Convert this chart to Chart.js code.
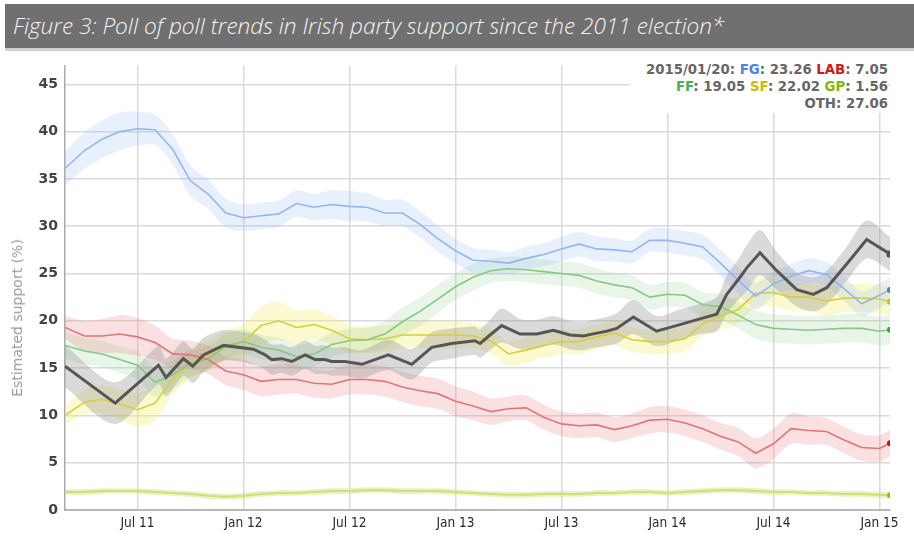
<!DOCTYPE html>
<html>
<head>
<meta charset="utf-8">
<script src="https://cdn.jsdelivr.net/npm/chart.js@4"></script>
<style>
  html, body { margin: 0; padding: 0; background: #fff; }
  body { width: 914px; height: 545px; position: relative; overflow: hidden; }
  #banner {
    position: absolute; left: 5px; top: 4px; width: 909px; height: 44px;
    background: #707070; color: #f4f4f4;
    font-family: "Open Sans", sans-serif; font-style: italic; font-weight: 300;
    font-size: 22.6px; line-height: 44px; padding-left: 8px; box-sizing: border-box;
  }
  #stripe { position: absolute; left: 5px; top: 48px; width: 909px; height: 3px; background: #d0d0d0; }
  #wrap { position: absolute; left: 0; top: 50px; width: 914px; height: 495px; }
  #ytitle {
    position: absolute; left: 17px; top: 318px; color: #9a9a9a;
    font-family: "DejaVu Sans", sans-serif; font-size: 14px; white-space: nowrap;
    transform: translate(-50%, -50%) rotate(-90deg);
  }
  #legend {
    position: absolute; left: 630px; top: 52px; width: 258px; height: 61px;
    background: #fff; text-align: right; box-sizing: border-box; padding-top: 9px;
    font-family: "DejaVu Sans", sans-serif; font-weight: bold; font-size: 13.3px;
    line-height: 17px; color: #666;
  }
</style>
</head>
<body>
<div id="banner">Figure 3: Poll of poll trends in Irish party support since the 2011 election*</div>
<div id="stripe"></div>
<div id="wrap"><canvas id="poll" width="914" height="495"></canvas></div>
<div id="ytitle">Estimated support (%)</div>
<div id="legend"></div>
<script>
// months since Jan 2011 (6 = Jul 11, 12 = Jan 12 ...)
const months = [1.9, 3, 4, 5, 6, 7, 8, 9, 10, 11, 12, 13, 14, 15, 16, 17, 18, 19, 20, 21, 22, 23, 24, 25,
  26, 27, 28, 29, 30, 31, 32, 33, 34, 35, 36, 37, 38, 39, 40, 41, 42, 43, 44, 45, 46, 47, 48, 48.6];

const fg = [36.1, 38.0, 39.2, 40.0, 40.3, 40.2, 38.1, 34.8, 33.4, 31.4, 30.9, 31.1, 31.3, 32.4, 32.0, 32.3,
  32.1, 32.0, 31.4, 31.4, 30.2, 28.7, 27.4, 26.4, 26.3, 26.1, 26.6, 27.0, 27.6, 28.1, 27.6, 27.5, 27.3, 28.5,
  28.5, 28.2, 27.8, 26.1, 24.3, 22.6, 23.9, 24.7, 25.3, 24.9, 23.4, 21.8, 22.7, 23.26];
const lab = [19.3, 18.4, 18.4, 18.6, 18.3, 17.7, 16.5, 16.4, 15.9, 14.7, 14.3, 13.6, 13.8, 13.8, 13.4, 13.3,
  13.8, 13.8, 13.6, 13.0, 12.6, 12.3, 11.5, 11.0, 10.4, 10.7, 10.8, 9.8, 9.1, 8.9, 9.0, 8.5, 8.9, 9.5, 9.6,
  9.2, 8.6, 7.8, 7.2, 6.0, 7.0, 8.6, 8.4, 8.3, 7.4, 6.6, 6.5, 7.05];
const ff = [17.4, 16.8, 16.5, 15.9, 15.3, 13.5, 14.3, 15.5, 16.0, 17.3, 17.8, 17.2, 16.9, 16.2, 16.5, 17.5,
  17.9, 18.0, 18.6, 19.9, 21.0, 22.3, 23.6, 24.6, 25.3, 25.5, 25.4, 25.2, 25.0, 24.8, 24.2, 23.8, 23.5, 22.5,
  22.8, 22.7, 21.7, 21.5, 20.6, 19.6, 19.2, 19.1, 19.0, 19.1, 19.2, 19.2, 18.9, 19.05];
const sf = [10.0, 11.4, 11.7, 11.2, 10.6, 11.3, 13.9, 15.5, 16.4, 17.4, 17.8, 19.5, 20.0, 19.3, 19.6, 19.0,
  18.1, 18.0, 18.1, 18.5, 18.5, 18.5, 18.5, 18.4, 17.9, 16.5, 16.9, 17.4, 17.8, 17.8, 18.3, 18.7, 18.0, 17.8,
  17.8, 18.1, 19.7, 20.5, 21.2, 22.9, 23.0, 22.5, 22.5, 22.1, 22.4, 22.4, 22.3, 22.02];
const gp = [1.9, 1.9, 2.0, 2.0, 2.0, 1.9, 1.8, 1.7, 1.5, 1.4, 1.5, 1.7, 1.8, 1.8, 1.9, 2.0, 2.0, 2.1, 2.1,
  2.0, 2.0, 2.0, 1.9, 1.8, 1.7, 1.6, 1.6, 1.7, 1.7, 1.7, 1.8, 1.8, 1.9, 1.9, 1.8, 1.9, 2.0, 2.1, 2.1, 2.0,
  1.9, 1.9, 1.8, 1.8, 1.7, 1.7, 1.6, 1.56];

// others has its own time points (sharper turns)
const othMonths = [1.9, 4.74, 7.19, 7.62, 8.6, 9.13, 9.74, 10.87, 12.57, 13.23, 13.6, 14.17, 14.74, 15.49,
  16.06, 16.6, 17.0, 17.75, 18.7, 20.2, 21.53, 22.66, 23.79, 25.1, 25.4, 25.96, 26.62, 27.66, 28.6, 29.54,
  30.49, 31.24, 32.0, 32.56, 33.13, 34.07, 35.39, 36.71, 37.84, 38.79, 39.36, 40.11, 40.49, 41.24, 42.19,
  43.32, 44.26, 45.02, 46.15, 47.28, 48.6];
const oth = [15.2, 11.3, 15.3, 14.0, 16.0, 15.2, 16.4, 17.4, 17.0, 16.4, 15.9, 16.0, 15.7, 16.4, 15.9, 15.9,
  15.7, 15.7, 15.4, 16.4, 15.4, 17.2, 17.6, 17.9, 17.6, 18.5, 19.5, 18.6, 18.6, 19.0, 18.5, 18.4, 18.7, 18.9,
  19.2, 20.4, 18.9, 19.6, 20.2, 20.7, 22.8, 24.6, 25.6, 27.2, 25.3, 23.3, 22.8, 23.5, 26.0, 28.6, 27.06];

// half-width of the uncertainty bands
const fgBand = [1.8, 1.9, 2.0, 2.0, 1.8, 1.6, 1.6, 1.6, 1.5, 1.5, 1.4, 1.4, 1.4, 1.4, 1.4, 1.5, 1.6, 1.5,
  1.4, 1.4, 1.4, 1.4, 1.3, 1.3, 1.2, 1.2, 1.2, 1.2, 1.3, 1.3, 1.3, 1.2, 1.2, 1.2, 1.3, 1.3, 1.3, 1.4, 1.4,
  1.4, 1.3, 1.3, 1.3, 1.3, 1.3, 1.3, 1.3, 1.3];
const labBand = [1.2, 1.6, 1.8, 2.0, 2.0, 1.8, 1.6, 1.5, 1.5, 1.5, 1.6, 1.6, 1.6, 1.5, 1.5, 1.5, 1.6, 1.6,
  1.6, 1.6, 1.6, 1.6, 1.6, 1.5, 1.4, 1.3, 1.3, 1.3, 1.3, 1.3, 1.3, 1.3, 1.3, 1.4, 1.4, 1.4, 1.4, 1.4, 1.5,
  1.6, 1.6, 1.6, 1.5, 1.4, 1.4, 1.4, 1.4, 1.4];
const ffBand = [1.4, 1.4, 1.4, 1.4, 1.5, 1.5, 1.5, 1.4, 1.3, 1.3, 1.3, 1.3, 1.3, 1.3, 1.3, 1.3, 1.3, 1.3,
  1.4, 1.5, 1.5, 1.5, 1.4, 1.4, 1.3, 1.3, 1.3, 1.3, 1.3, 1.3, 1.3, 1.3, 1.3, 1.3, 1.3, 1.3, 1.3, 1.4, 1.4,
  1.5, 1.5, 1.5, 1.5, 1.5, 1.5, 1.5, 1.5, 1.5];
const sfBand = [1.0, 1.3, 1.5, 1.6, 1.8, 1.8, 1.7, 1.6, 1.6, 1.6, 1.8, 2.0, 2.0, 1.8, 1.6, 1.5, 1.4, 1.4,
  1.4, 1.4, 1.4, 1.4, 1.4, 1.3, 1.3, 1.3, 1.3, 1.3, 1.3, 1.3, 1.3, 1.3, 1.3, 1.3, 1.3, 1.3, 1.3, 1.4, 1.4,
  1.5, 1.5, 1.5, 1.5, 1.5, 1.5, 1.5, 1.5, 1.5];
const gpBand = [0.3, 0.3, 0.3, 0.3, 0.3, 0.3, 0.3, 0.3, 0.3, 0.3, 0.3, 0.3, 0.3, 0.3, 0.3, 0.3, 0.3, 0.3,
  0.3, 0.3, 0.3, 0.3, 0.3, 0.3, 0.3, 0.3, 0.3, 0.3, 0.3, 0.3, 0.3, 0.3, 0.3, 0.3, 0.3, 0.3, 0.3, 0.3, 0.3,
  0.3, 0.3, 0.3, 0.3, 0.3, 0.3, 0.3, 0.3, 0.3];
const othBand = [2.2, 2.2, 2.0, 2.0, 1.8, 1.8, 1.8, 1.6, 1.6, 1.6, 1.6, 1.5, 1.5, 1.5, 1.5, 1.5, 1.5, 1.5,
  1.5, 1.6, 1.6, 1.6, 1.6, 1.5, 1.5, 1.6, 1.8, 1.6, 1.5, 1.5, 1.5, 1.5, 1.5, 1.5, 1.6, 1.8, 1.6, 1.6, 1.6,
  1.8, 2.0, 2.2, 2.4, 2.4, 2.0, 1.8, 1.8, 1.8, 1.8, 2.0, 1.8];

const xTickPos = [6, 12, 18, 24, 30, 36, 42, 48];
const xTickLabels = ['Jul 11', 'Jan 12', 'Jul 12', 'Jan 13', 'Jul 13', 'Jan 14', 'Jul 14', 'Jan 15'];
const lastDate = '2015/01/20';

const parties = [
  { name: 'OTH', xs: othMonths, ys: oth, band: othBand, line: '#565656', fill: 'rgba(140,140,140,0.32)', dot: '#505050', width: 3 },
  { name: 'FG', xs: months, ys: fg, band: fgBand, line: '#93b6f2', fill: 'rgba(150,185,250,0.22)', dot: '#3f7ff0', width: 1.6 },
  { name: 'LAB', xs: months, ys: lab, band: labBand, line: '#e27676', fill: 'rgba(235,130,130,0.25)', dot: '#d01010', width: 1.6 },
  { name: 'FF', xs: months, ys: ff, band: ffBand, line: '#85c985', fill: 'rgba(150,210,150,0.22)', dot: '#3fa63f', width: 1.6 },
  { name: 'SF', xs: months, ys: sf, band: sfBand, line: '#d8cf3a', fill: 'rgba(240,238,120,0.35)', dot: '#c8c000', width: 1.6 },
  { name: 'GP', xs: months, ys: gp, band: gpBand, line: '#c9e27a', fill: 'rgba(200,228,120,0.45)', dot: '#8cc414', width: 2 }
];

const pts = (xs, ys) => xs.map((x, i) => ({ x: x, y: ys[i] }));

const lineSets = parties.map(p => ({
  label: p.name,
  data: pts(p.xs, p.ys),
  borderColor: p.line,
  borderWidth: p.width,
  backgroundColor: p.dot,
  pointBackgroundColor: p.dot,
  pointBorderWidth: 0,
  pointStyle: p.name === 'OTH' ? 'rectRounded' : 'circle',
  pointRadius: ctx => ctx.dataIndex === p.ys.length - 1 ? (p.name === 'OTH' ? 4 : 3) : 0,
  fill: false,
  tension: 0
}));

const bandSets = [];
parties.forEach(p => {
  const lowIdx = lineSets.length + bandSets.length;
  bandSets.push({
    data: pts(p.xs, p.ys.map((v, i) => v - p.band[i])),
    borderWidth: 0, pointRadius: 0, fill: false, tension: 0.3
  });
  bandSets.push({
    data: pts(p.xs, p.ys.map((v, i) => v + p.band[i])),
    borderWidth: 0, pointRadius: 0, backgroundColor: p.fill, fill: lowIdx, tension: 0.3
  });
});

new Chart(document.getElementById('poll'), {
  type: 'line',
  data: { datasets: lineSets.concat(bandSets) },
  options: {
    responsive: false,
    animation: false,
    devicePixelRatio: 1,
    layout: { padding: { top: 10, right: 24, left: 0, bottom: 0 } },
    plugins: {
      legend: { display: false },
      tooltip: { enabled: false },
      filler: { drawTime: 'beforeDatasetsDraw' }
    },
    scales: {
      x: {
        type: 'linear',
        min: 1.9,
        max: 48.6,
        afterBuildTicks: s => { s.ticks = xTickPos.map(v => ({ value: v })); },
        afterFit: s => { s.height = 35; },
        ticks: {
          autoSkip: false, maxRotation: 0, padding: 5, color: '#2a2a2a',
          font: { family: '"DejaVu Sans Condensed", "DejaVu Sans", sans-serif', size: 13.5 },
          callback: v => xTickLabels[xTickPos.indexOf(v)]
        },
        grid: { color: '#dadada', lineWidth: 1.5, drawTicks: false },
        border: { color: '#b8b8b8', width: 2 }
      },
      y: {
        min: 0,
        max: 47,
        afterBuildTicks: s => { s.ticks = s.ticks.filter(t => t.value % 5 === 0); },
        afterFit: s => { s.width = 65; },
        ticks: {
          stepSize: 5, padding: 7, color: '#444',
          font: { family: '"DejaVu Sans", sans-serif', size: 14, weight: 'bold' }
        },
        grid: { color: '#dadada', lineWidth: 1.5, drawTicks: false },
        border: { color: '#aaaaaa', width: 1.5 }
      }
    }
  }
});

// legend text with the last values
const last = a => a[a.length - 1].toFixed(2);
const tag = (txt, col) => '<span style="color:' + col + '">' + txt + '</span>';
document.getElementById('legend').innerHTML =
  lastDate + ': ' + tag('FG', '#4a84e8') + ': ' + last(fg) + ' ' + tag('LAB', '#d01818') + ': ' + last(lab) + '<br>' +
  tag('FF', '#4cae4c') + ': ' + last(ff) + ' ' + tag('SF', '#c6c000') + ': ' + last(sf) + ' ' + tag('GP', '#80bb00') + ': ' + last(gp) + '<br>' +
  'OTH: ' + last(oth);
</script>
</body>
</html>
